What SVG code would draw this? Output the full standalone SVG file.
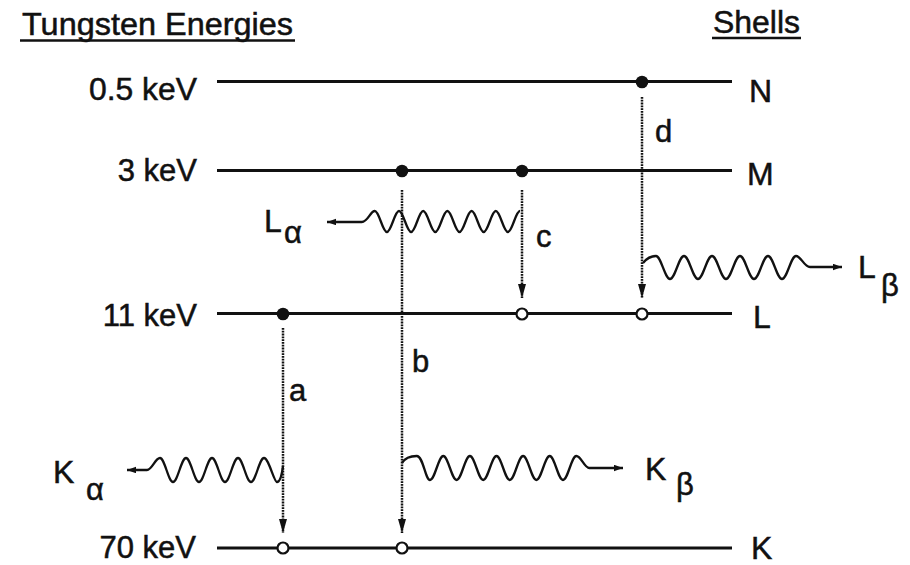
<svg xmlns="http://www.w3.org/2000/svg" width="910" height="565" viewBox="0 0 910 565">
<defs>
<style>
text{font-family:"Liberation Sans",Arial,sans-serif;fill:#111;stroke:#111;stroke-width:0.5}
.t{font-size:31px}
.s{font-size:32px}
.g{font-size:31px}
.lvl{stroke:#111;stroke-width:2.8;fill:none}
.ul{stroke:#111;stroke-width:2.4}
.dot{fill:#111}
.hole{fill:#fff;stroke:#111;stroke-width:2.2}
.tr{stroke:#111;stroke-width:2.5;stroke-dasharray:1.8 1;fill:none}
.wave{stroke:#111;stroke-width:2.3;fill:none}
</style>
<marker id="da" markerUnits="userSpaceOnUse" markerWidth="16" markerHeight="10" refX="14" refY="4" orient="auto"><path d="M0,0 L14,4 L0,8 z" fill="#111"/></marker>
<marker id="wa" markerUnits="userSpaceOnUse" markerWidth="10" markerHeight="8" refX="9" refY="3.25" orient="auto"><path d="M0,0 L9,3.25 L0,6.5 z" fill="#111"/></marker>
</defs>
<rect width="910" height="565" fill="#fff"/>

<g id="titles">
<text class="t" x="22" y="35" textLength="271" lengthAdjust="spacingAndGlyphs">Tungsten Energies</text>
<line class="ul" x1="20" y1="40.5" x2="295" y2="40.5"/>
<text class="t" x="713" y="33" textLength="87" lengthAdjust="spacingAndGlyphs">Shells</text>
<line class="ul" x1="712" y1="38" x2="801" y2="38"/>
</g>

<g id="level-N">
<text class="t" x="197" y="100" text-anchor="end" textLength="108" lengthAdjust="spacingAndGlyphs">0.5 keV</text>
<line class="lvl" x1="217" y1="81.5" x2="732" y2="81.5"/>
<text class="s" x="749" y="102">N</text>
</g>
<g id="level-M">
<text class="t" x="197" y="181" text-anchor="end">3 keV</text>
<line class="lvl" x1="217" y1="170.5" x2="732" y2="170.5"/>
<text class="s" x="747" y="185">M</text>
</g>
<g id="level-L">
<text class="t" x="197" y="326" text-anchor="end">11 keV</text>
<line class="lvl" x1="217" y1="313.5" x2="732" y2="313.5"/>
<text class="s" x="753" y="328">L</text>
</g>
<g id="level-K">
<text class="t" x="196" y="558" text-anchor="end">70 keV</text>
<line class="lvl" x1="217" y1="548" x2="732" y2="548"/>
<text class="s" x="751" y="559">K</text>
</g>

<g id="connectors">
<line class="tr" x1="283" y1="328" x2="283" y2="533" marker-end="url(#da)"/>
<line class="tr" x1="402" y1="190" x2="402" y2="533" marker-end="url(#da)"/>
<line class="tr" x1="522" y1="190" x2="522" y2="298" marker-end="url(#da)"/>
<line class="tr" x1="642" y1="97" x2="642" y2="298" marker-end="url(#da)"/>
<path id="wave-La" class="wave" marker-end="url(#wa)" d="M520,211 C515.59,211 512.31,232 507.9,232 s-7.69,-21 -12.1,-21 s-7.69,21 -12.1,21 s-7.69,-21 -12.1,-21 s-7.69,21 -12.1,21 s-7.69,-21 -12.1,-21 s-7.69,21 -12.1,21 s-7.69,-21 -12.1,-21 s-7.69,21 -12.1,21 s-7.69,-21 -12.1,-21 s-7.69,21 -12.1,21 s-7.69,-21 -12.1,-21 s-7,11 -13,11 L327,222"/>
<path id="wave-Lb" class="wave" marker-end="url(#wa)" d="M643,263 C647,258 651,256 656,256 s8.9,23 14,23 s8.9,-23 14,-23 s8.9,23 14,23 s8.9,-23 14,-23 s8.9,23 14,23 s8.9,-23 14,-23 s8.9,23 14,23 s8.9,-23 14,-23 s8.9,23 14,23 s8.9,-23 14,-23 s8,11 14,11 L842,267"/>
<path id="wave-Ka" class="wave" marker-end="url(#wa)" d="M283,466 C282,474 280,482 277,482 s-8.27,-24 -13,-24 s-8.27,24 -13,24 s-8.27,-24 -13,-24 s-8.27,24 -13,24 s-8.27,-24 -13,-24 s-8.27,24 -13,24 s-8.27,-24 -13,-24 s-8.27,24 -13,24 s-8.27,-24 -13,-24 s-8,12 -13,12 L127,470"/>
<path id="wave-Kb" class="wave" marker-end="url(#wa)" d="M402,463 C405,458 410,456 416.7,456 s8.46,24 13.3,24 s8.46,-24 13.3,-24 s8.46,24 13.3,24 s8.46,-24 13.3,-24 s8.46,24 13.3,24 s8.46,-24 13.3,-24 s8.46,24 13.3,24 s8.46,-24 13.3,-24 s8.46,24 13.3,24 s8.46,-24 13.3,-24 s8.46,24 13.3,24 s8.46,-24 13.3,-24 s8,12 13,12 L623,468"/>
</g>

<g id="electrons">
<circle class="dot" cx="642" cy="82" r="6.3"/>
<circle class="dot" cx="402" cy="171" r="6.3"/>
<circle class="dot" cx="522" cy="171" r="6.3"/>
<circle class="dot" cx="283" cy="314" r="6.3"/>
<circle class="hole" cx="522" cy="314" r="5.5"/>
<circle class="hole" cx="642" cy="314" r="5.5"/>
<circle class="hole" cx="283" cy="548" r="5.5"/>
<circle class="hole" cx="402" cy="548" r="5.5"/>
</g>

<g id="labels">
<text class="t" x="289" y="401">a</text>
<text class="t" x="412" y="372">b</text>
<text class="t" x="536" y="247">c</text>
<text class="t" x="655" y="142">d</text>
<text class="s" x="264" y="232">L</text><text class="g" x="284" y="243">α</text>
<text class="s" x="858" y="278">L</text><text class="g" x="881" y="296">β</text>
<text class="s" x="53" y="483">K</text><text class="g" x="86" y="500">α</text>
<text class="s" x="645" y="480">K</text><text class="g" x="676" y="495">β</text>
</g>
</svg>
